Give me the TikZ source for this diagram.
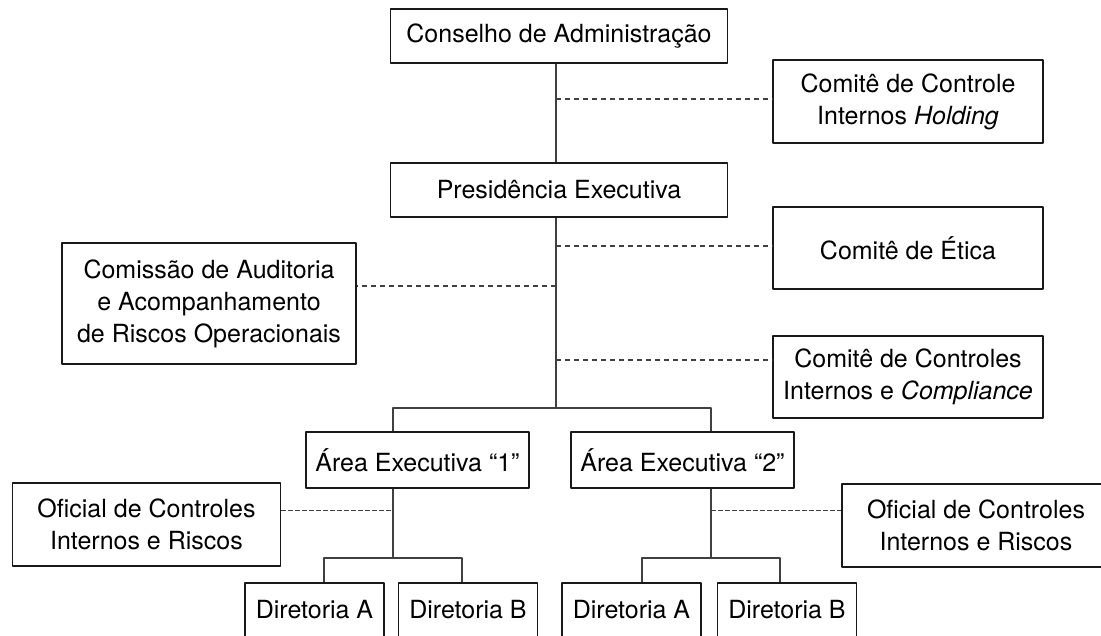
\documentclass[tikz,border=0pt]{standalone}
\usepackage{fontspec}
\setmainfont{TeX Gyre Heros}
\begin{document}
\begin{tikzpicture}[x=1pt, y=-1pt, font=\fontsize{25}{32}\selectfont, line join=round,
    box/.style={draw=black!90, line width=1.2pt, align=center, inner sep=0pt},
    link/.style={line width=1.2pt, draw=black!75},
    dash1/.style={link, dash pattern=on 5pt off 4pt},
    dash2/.style={link, line width=1pt, dash pattern=on 5pt off 2pt}]
  \clip (0,0) rectangle (1101,636);
  % upper part
  \node[box, minimum width=337, minimum height=54] (cons) at (559,36) {Conselho de Administração};
  \node[box, minimum width=337, minimum height=54] (pres) at (559,190) {Presidência Executiva};
  \node[box, minimum width=270, minimum height=83] (hold) at (908,101.5) {Comitê de Controle\\Internos \textit{Holding}};
  \node[box, minimum width=270, minimum height=82] (etica) at (908,248) {Comitê de Ética};
  \node[box, minimum width=270, minimum height=82] (compl) at (908,377) {Comitê de Controles\\Internos e \textit{Compliance}};
  \node[box, minimum width=294, minimum height=121] (audit) at (209,303.5) {Comissão de Auditoria\\e Acompanhamento\\de Riscos Operacionais};
  % executive areas
  \node[box, minimum width=223, minimum height=56] (area1) at (417.5,460) {Área Executiva “1”};
  \node[box, minimum width=223, minimum height=56] (area2) at (682.5,460) {Área Executiva “2”};
  \node[box, minimum width=268, minimum height=83] (ofic1) at (146.5,524.5) {Oficial de Controles\\Internos e Riscos};
  \node[box, minimum width=268, minimum height=83] (ofic2) at (976,525.5) {Oficial de Controles\\Internos e Riscos};
  \node[box, minimum width=139, minimum height=54] (dirA1) at (314.5,610) {Diretoria A};
  \node[box, minimum width=139, minimum height=54] (dirB1) at (468,610) {Diretoria B};
  \node[box, minimum width=139, minimum height=54] (dirA2) at (631.5,610) {Diretoria A};
  \node[box, minimum width=139, minimum height=54] (dirB2) at (787,610) {Diretoria B};
  % trunk and branches
  \coordinate (split) at (556,408);
  \coordinate (br1) at (393,408);
  \coordinate (br2) at (711,408);
  \coordinate (s1) at (393,558);
  \coordinate (s2) at (711,558);
  \foreach \n/\x in {a1/324, b1/462, a2/642, b2/780} \coordinate (\n) at (\x,558);
  \draw[link] (cons.south -| split) -- (pres.north -| split) (pres.south -| split) -- (split);
  \draw[link] (br1 |- area1.north) -- (br1) -- (br2) -- (br2 |- area2.north);
  \draw[link] (s1 |- area1.south) -- (s1) (a1 |- dirA1.north) -- (a1) -- (b1) -- (b1 |- dirB1.north);
  \draw[link] (s2 |- area2.south) -- (s2) (a2 |- dirA2.north) -- (a2) -- (b2) -- (b2 |- dirB2.north);
  % dashed links
  \foreach \y/\n in {99/hold, 246/etica, 360/compl} \draw[dash1] (556,\y) -- (\n.west |- 0,\y);
  \draw[dash1] (556,286) -- (audit.east |- 0,286);
  \draw[dash2] (ofic1.east |- 0,510) -- (393,510);
  \draw[dash2] (711,510) -- (ofic2.west |- 0,510);
\end{tikzpicture}
\end{document}
